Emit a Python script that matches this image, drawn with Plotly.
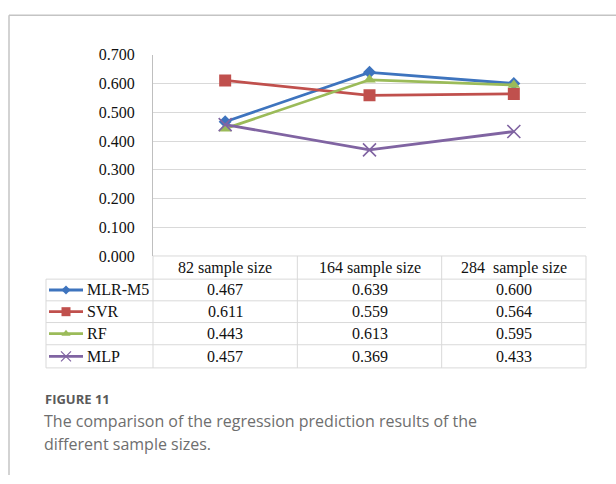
import plotly.graph_objects as go

# ---- data ----
categories = ["82 sample size", "164 sample size", "284\u00a0 sample size"]
series_names = ["MLR-M5", "SVR", "RF", "MLP"]
mlr_m5 = [0.467, 0.639, 0.600]
svr = [0.611, 0.559, 0.564]
rf = [0.443, 0.613, 0.595]
mlp = [0.457, 0.369, 0.433]
y_ticks = [0.0, 0.1, 0.2, 0.3, 0.4, 0.5, 0.6, 0.7]

series_values = [mlr_m5, svr, rf, mlp]
colors = ["#3E74BE", "#C0504D", "#9BBB59", "#8064A2"]
symbols = ["diamond", "square", "triangle-up", "x-thin"]
main_sizes = [10, 12, 11, 13]
key_sizes = [7, 9, 8, 10]

W, H = 616, 484
PL, PR, PT, PB = 153, 586, 48.5, 257  # plot area in pixels


def px(x):
    return x / W


def py(y):
    return 1 - y / H


serif = "Liberation Serif, Times New Roman, serif"
sans = "Open Sans, Noto Sans, sans-serif"

fig = go.Figure()

for name, vals, c, s, ms in zip(series_names, series_values, colors, symbols, main_sizes):
    marker = dict(symbol=s, size=ms, color=c)
    if s == "x-thin":
        marker["line"] = dict(color=c, width=1.6)
    fig.add_trace(go.Scatter(
        x=categories, y=vals, mode="lines+markers", name=name,
        line=dict(color=c, width=2.8), marker=marker,
        xaxis="x", yaxis="y", showlegend=False, hoverinfo="skip"))

# table rows geometry (pixels)
row_lines = [281, 303.5, 326, 349, 373]
row_centers = [(row_lines[i] + row_lines[i + 1]) / 2 for i in range(4)]
header_center = (PB + row_lines[0]) / 2
col_edges = [PL, PL + (PR - PL) / 3, PL + 2 * (PR - PL) / 3, PR]
TL = 46

# legend keys in the table (overlay pixel axes)
for name, c, s, ks, yc in zip(series_names, colors, symbols, key_sizes, row_centers):
    marker = dict(symbol=s, size=ks, color=c)
    if s == "x-thin":
        marker["line"] = dict(color=c, width=1.2)
    fig.add_trace(go.Scatter(
        x=[49, 83], y=[yc, yc], mode="lines", line=dict(color=c, width=2.8),
        xaxis="x2", yaxis="y2", showlegend=False, hoverinfo="skip"))
    fig.add_trace(go.Scatter(
        x=[66], y=[yc], mode="markers", marker=marker,
        xaxis="x2", yaxis="y2", showlegend=False, hoverinfo="skip"))

annotations = []
# header
for cat in categories:
    annotations.append(dict(x=cat, y=py(header_center), xref="x", yref="paper",
                            text=cat, showarrow=False, xanchor="center", yanchor="middle",
                            font=dict(family=serif, size=16, color="#111")))
# rows
for name, vals, yc in zip(series_names, series_values, row_centers):
    annotations.append(dict(x=px(85), y=py(yc), xref="paper", yref="paper",
                            text=name, showarrow=False, xanchor="left", yanchor="middle",
                            font=dict(family=serif, size=16, color="#111")))
    for cat, v in zip(categories, vals):
        annotations.append(dict(x=cat, y=py(yc), xref="x", yref="paper",
                                text=f"{v:.3f}", showarrow=False, xanchor="center",
                                yanchor="middle",
                                font=dict(family=serif, size=16, color="#111")))

# caption
annotations.append(dict(x=px(43), y=py(405), xref="paper", yref="paper",
                        text="<b>FIGURE 11</b>", showarrow=False, xanchor="left",
                        yanchor="middle", font=dict(family=sans, size=13, color="#5a5a5a")))
annotations.append(dict(x=px(42), y=py(428), xref="paper", yref="paper",
                        text="The comparison of the regression prediction results of the",
                        showarrow=False, xanchor="left", yanchor="middle",
                        font=dict(family=sans, size=16, color="#6e6e6e")))
annotations.append(dict(x=px(42), y=py(452), xref="paper", yref="paper",
                        text="different sample sizes.",
                        showarrow=False, xanchor="left", yanchor="middle",
                        font=dict(family=sans, size=16, color="#6e6e6e")))

shapes = []
grid = "#d9d9d9"
# header top line
shapes.append(dict(type="line", xref="paper", yref="paper",
                   x0=px(PL), x1=px(PR), y0=py(PB), y1=py(PB),
                   line=dict(color=grid, width=1)))
for yl in row_lines:
    shapes.append(dict(type="line", xref="paper", yref="paper",
                       x0=px(TL), x1=px(PR), y0=py(yl), y1=py(yl),
                       line=dict(color=grid, width=1)))
shapes.append(dict(type="line", xref="paper", yref="paper",
                   x0=px(TL), x1=px(TL), y0=py(row_lines[0]), y1=py(row_lines[-1]),
                   line=dict(color=grid, width=1)))
for xe in col_edges:
    shapes.append(dict(type="line", xref="paper", yref="paper",
                       x0=px(xe), x1=px(xe), y0=py(PB), y1=py(row_lines[-1]),
                       line=dict(color=grid, width=1)))
# outer frame
shapes.append(dict(type="line", xref="paper", yref="paper",
                   x0=px(9), x1=1, y0=py(7.5), y1=py(7.5),
                   line=dict(color="#c4c4c4", width=1.5)))
shapes.append(dict(type="line", xref="paper", yref="paper",
                   x0=px(9), x1=px(9), y0=py(7.5), y1=0,
                   line=dict(color="#c4c4c4", width=1.5)))

fig.update_layout(
    width=W, height=H,
    margin=dict(l=0, r=0, t=0, b=0),
    paper_bgcolor="white", plot_bgcolor="rgba(0,0,0,0)",
    xaxis=dict(domain=[px(PL), px(PR)], type="category", categoryarray=categories,
               range=[-0.5, 2.5], showticklabels=False, showgrid=False,
               zeroline=False, showline=False, anchor="y", fixedrange=True),
    yaxis=dict(domain=[py(PB), py(PT)], range=[0, 0.7], tickvals=y_ticks,
               tickformat=".3f", showgrid=True, gridcolor=grid, gridwidth=1,
               zeroline=False, showline=True, linecolor="#bfbfbf", linewidth=1,
               ticks="", ticklabelstandoff=14, anchor="x",
               tickfont=dict(family=serif, size=16, color="#111"), fixedrange=True),
    xaxis2=dict(domain=[0, 1], range=[0, W], visible=False, anchor="y2", fixedrange=True),
    yaxis2=dict(domain=[0, 1], range=[H, 0], visible=False, anchor="x2", fixedrange=True),
    annotations=annotations,
    shapes=shapes,
)

fig.write_html("out.html")
